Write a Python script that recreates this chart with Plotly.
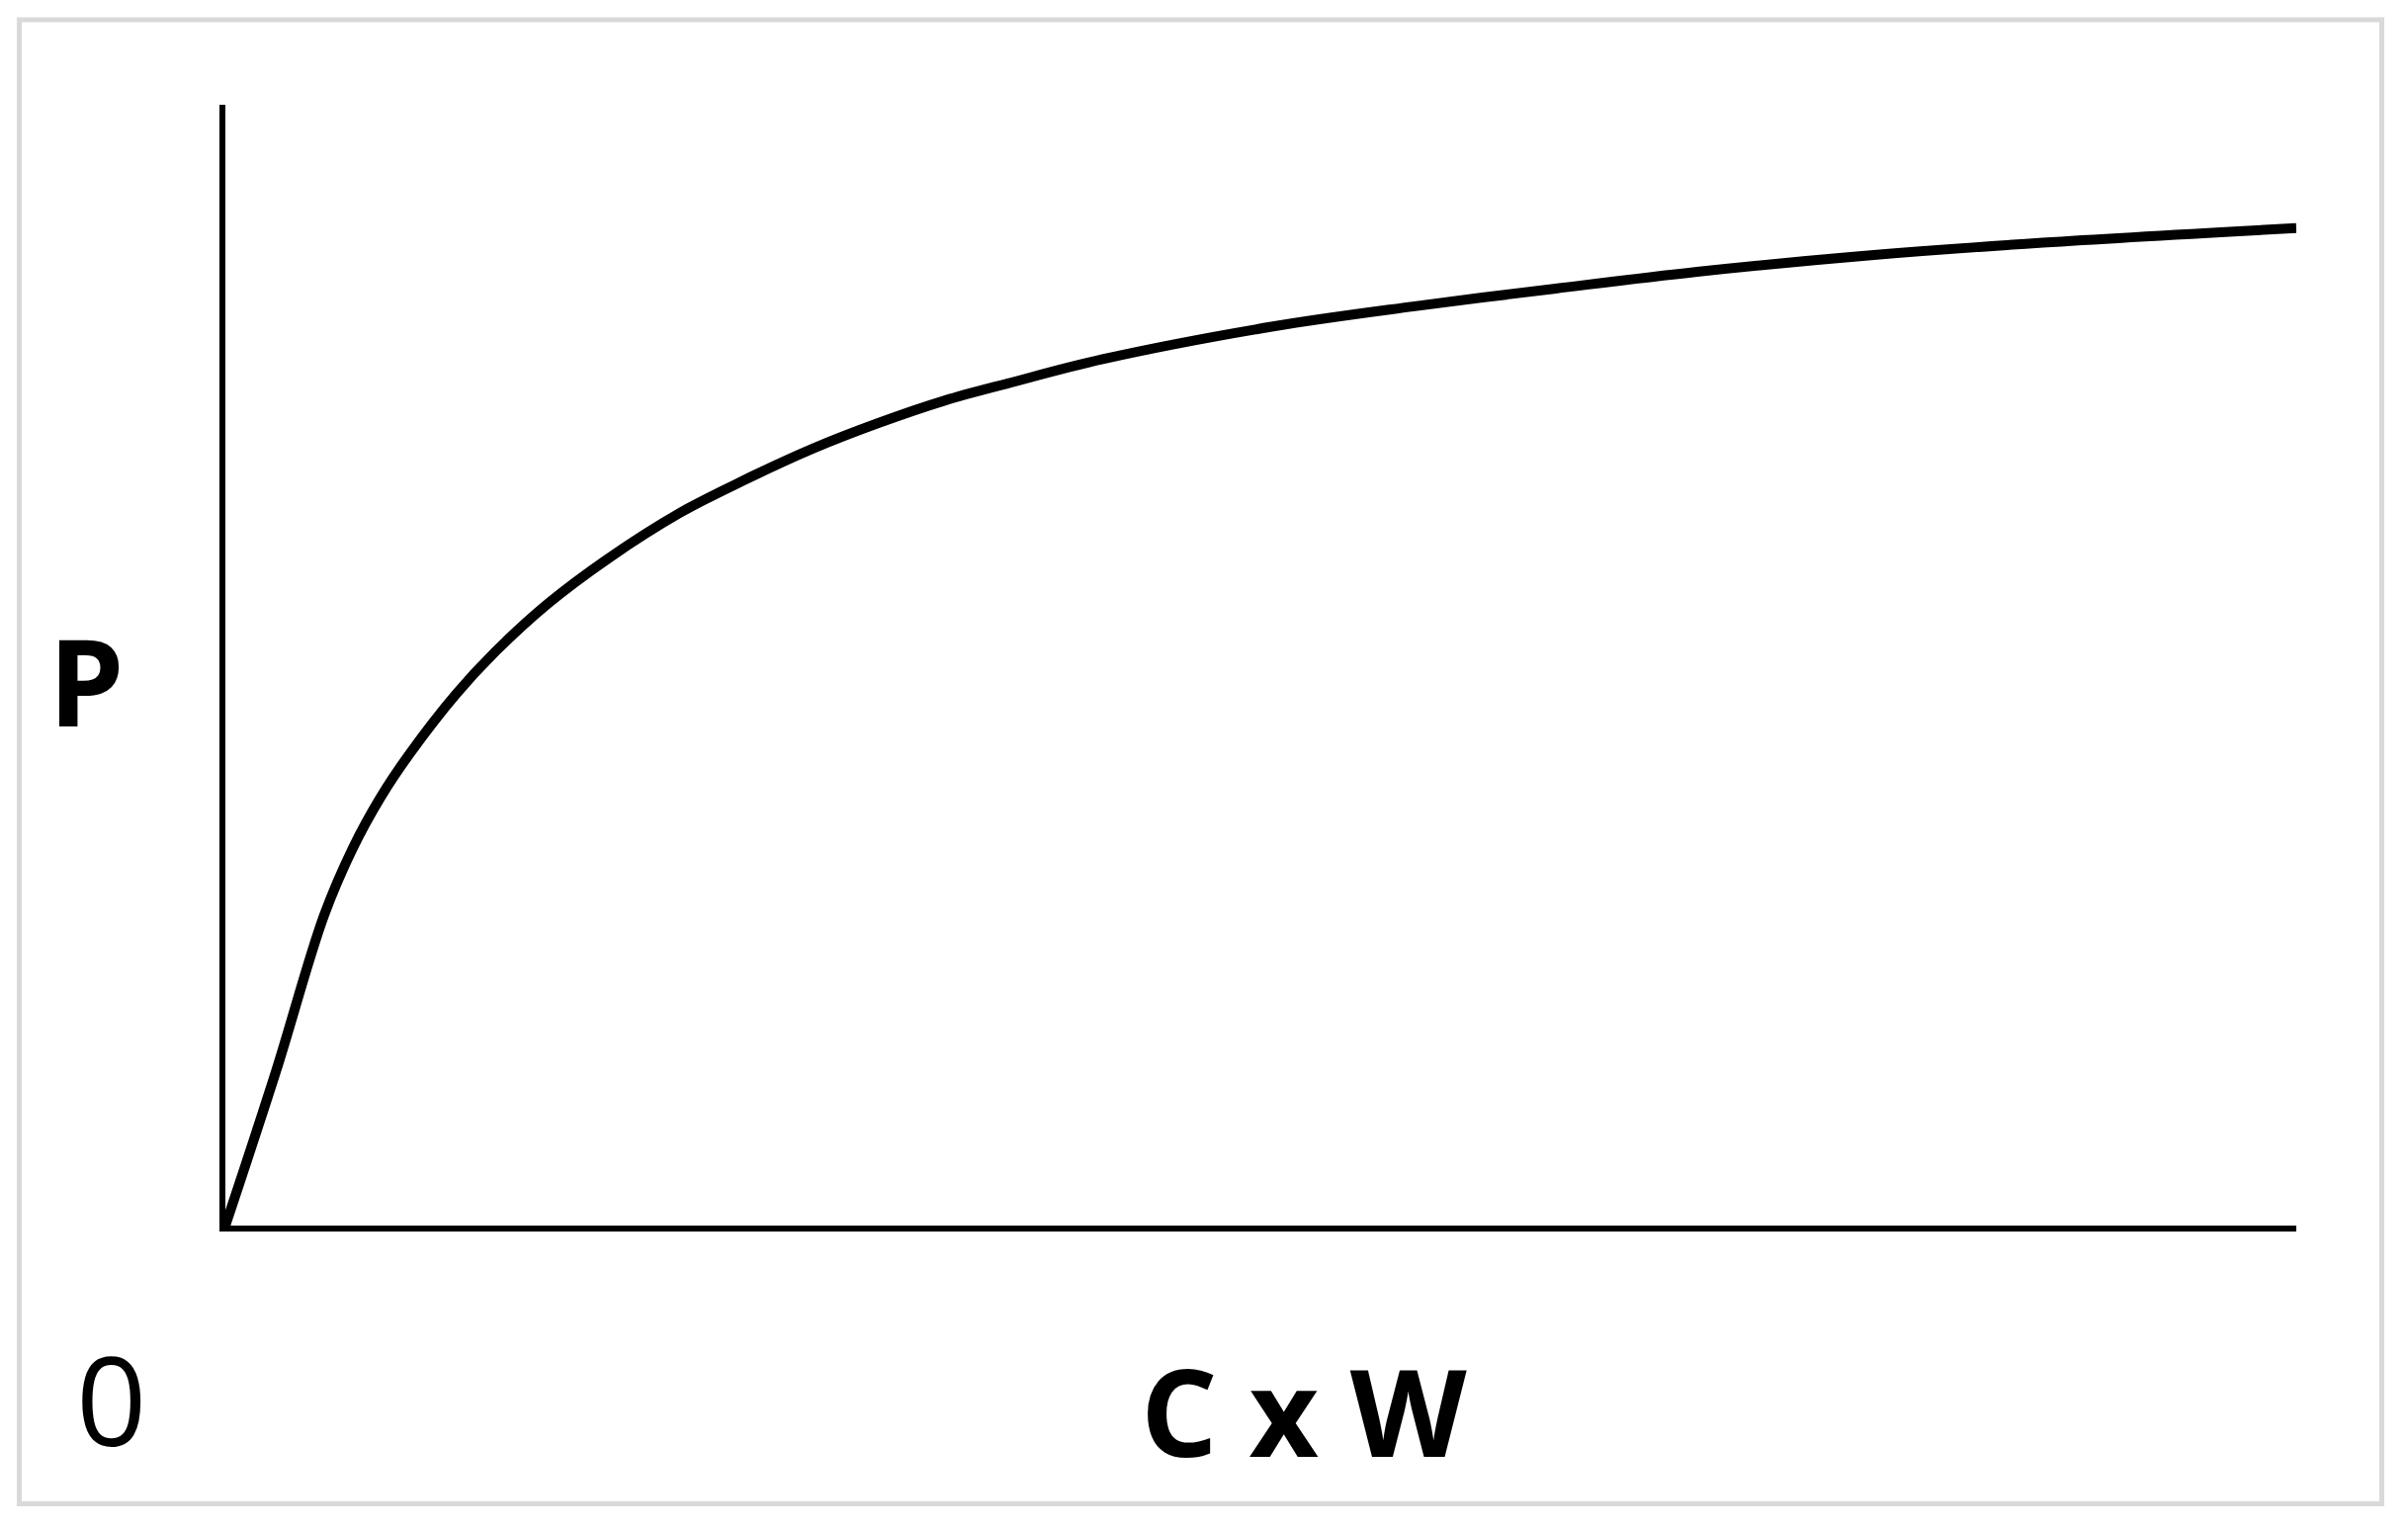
import plotly.graph_objects as go

# Curve (x: 0-100 along C x W, y: 0-100 along P)
cw = [0, 2.45, 4.75, 6.16, 7.49, 8.90, 11.13, 12.98, 15.58, 18.47, 21.96,
      24.93, 28.34, 31.53, 34.72, 37.91, 42.36, 50.52, 57.34, 64.24, 71.07,
      79.60, 87.76, 100.0]
p = [0, 13.8, 27.6, 33.7, 38.2, 42.1, 47.4, 51.1, 55.5, 59.5, 63.6,
     66.4, 69.3, 71.6, 73.6, 75.2, 77.3, 80.2, 82.0, 83.6, 85.1,
     86.6, 87.7, 89.0]

y_label = 'P'
x_label = 'C x W'
origin_label = '0'

# the page body has an 8px margin, so work 8px in from the window edge
OFF = 8
W, H = 2436 - 2 * OFF, 1548 - 2 * OFF
L, R, T, B = 228 - OFF, 2323 - OFF, 106 - OFF, 1240 - OFF  # plot area
pw, ph = R - L, B - T


def px(x):
    return (x - OFF - L) / pw


def py(y):
    return (B - (y - OFF)) / ph


fig = go.Figure(go.Scatter(
    x=cw, y=p, mode='lines',
    line=dict(color='black', width=10, shape='spline', smoothing=1.0),
    hoverinfo='skip', cliponaxis=False,
))

font = 'Open Sans, Lato, sans-serif'
common = dict(xref='paper', yref='paper', showarrow=False,
              xanchor='center', yanchor='middle')
fig.add_annotation(x=px(87), y=py(688), text='<b>' + y_label + '</b>',
                   font=dict(family=font, size=122, color='black'), **common)
fig.add_annotation(x=px(112), y=py(1414), text=origin_label,
                   font=dict(family=font, size=125, color='black'), **common)
fig.add_annotation(x=px(1319), y=py(1427), text='<b>' + x_label + '</b>',
                   font=dict(family=font, size=122, color='black'), **common)

# Light grey frame round the whole chart
fig.add_shape(type='rect', xref='paper', yref='paper',
              x0=px(19.5), x1=px(2409.5), y0=py(20), y1=py(1521.5),
              line=dict(color='#d9d9d9', width=5), layer='below')

axis = dict(showline=True, linecolor='black', linewidth=6, showgrid=False,
            zeroline=False, showticklabels=False, ticks='', fixedrange=True)

fig.update_layout(
    width=W, height=H,
    margin=dict(l=L, r=W - R, t=T, b=H - B),
    paper_bgcolor='white', plot_bgcolor='white',
    showlegend=False,
    xaxis=dict(range=[0, 100], **axis),
    yaxis=dict(range=[0, 100], **axis),
)

fig.write_html('out.html')
